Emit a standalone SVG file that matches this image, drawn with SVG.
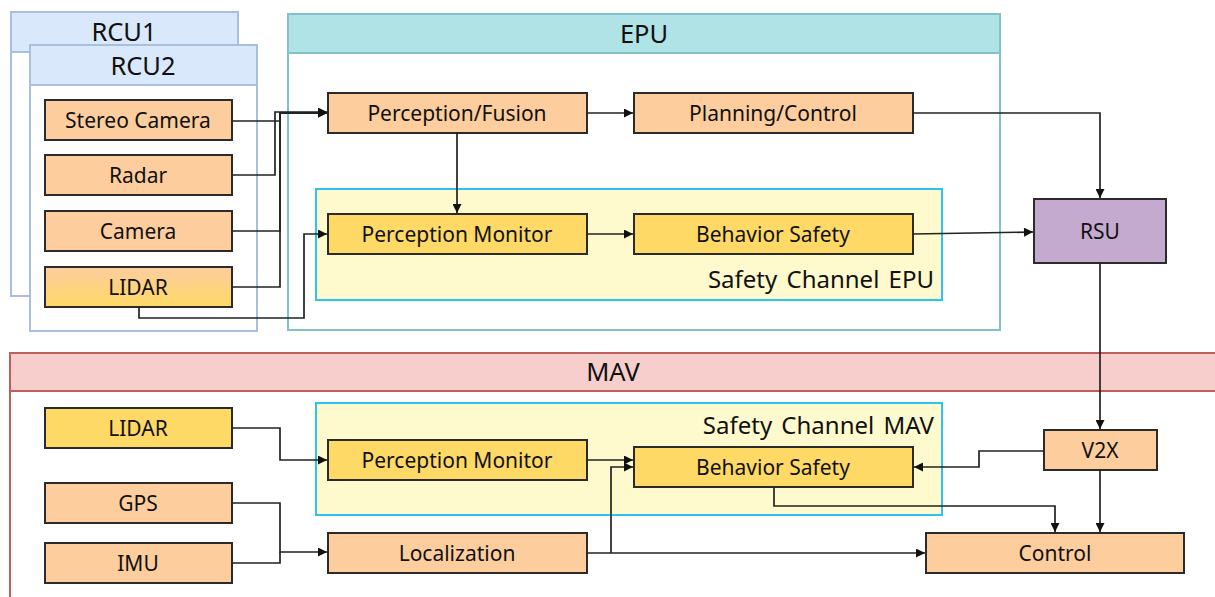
<svg xmlns="http://www.w3.org/2000/svg" width="1215" height="597" viewBox="0 0 1215 597">
  <defs>
    <style>
      text { font-family: "Noto Sans", "Open Sans", "DejaVu Sans", sans-serif; fill: #111; }
      .lbl { font-size: 21px; text-anchor: middle; }
      .hdr { font-size: 25.5px; text-anchor: middle; }
      .chan { font-size: 24px; text-anchor: end; word-spacing: 3px; }
      .box { stroke: #2b2b2b; stroke-width: 2; }
      .orange { fill: #fdcd9e; }
      .yellow { fill: #fed966; }
      .rcu-hdr { fill: #dae8fc; stroke: #a8bfe0; stroke-width: 2; }
      .rcu-body { fill: #ffffff; stroke: #a8bfe0; stroke-width: 2; }
      .epu-hdr { fill: #b0e3e6; stroke: #83c3c7; stroke-width: 2; }
      .epu-body { fill: #ffffff; stroke: #83c3c7; stroke-width: 2; }
      .mav-hdr { fill: #f8cecc; stroke: #c0605c; stroke-width: 2; }
      .mav-body { fill: #ffffff; stroke: #c0605c; stroke-width: 2; }
      .chan-box { fill: #fffacd; stroke: #2cc5f0; stroke-width: 2; }
      .wire { fill: none; stroke: #222; stroke-width: 1.7; }
    </style>
    <linearGradient id="lidarGrad" x1="0" y1="0" x2="0" y2="1">
      <stop offset="0" stop-color="#fdcd9e"/>
      <stop offset="1" stop-color="#fed966"/>
    </linearGradient>
    <marker id="arrow" viewBox="0 0 10 10" refX="10" refY="5" markerWidth="10" markerHeight="9" markerUnits="userSpaceOnUse" orient="auto">
      <path d="M0,0 L10,5 L0,10 z" fill="#111"/>
    </marker>
  </defs>

  <rect width="1215" height="597" fill="#ffffff"/>

  <!-- Containers -->
  <g id="rcu1">
    <rect class="rcu-body" x="11" y="12" width="227" height="284"/>
    <rect class="rcu-hdr" x="11" y="12" width="227" height="40"/>
    <text class="hdr" x="124" y="41">RCU1</text>
  </g>
  <g id="rcu2">
    <rect class="rcu-body" x="30" y="45" width="227" height="286"/>
    <rect class="rcu-hdr" x="30" y="45" width="227" height="40"/>
    <text class="hdr" x="143" y="75">RCU2</text>
  </g>
  <g id="epu">
    <rect class="epu-body" x="288" y="14" width="712" height="316"/>
    <rect class="epu-hdr" x="288" y="14" width="712" height="39"/>
    <text class="hdr" x="644" y="43">EPU</text>
  </g>
  <g id="mav">
    <rect class="mav-body" x="10" y="353" width="1215" height="260"/>
    <rect class="mav-hdr" x="10" y="353" width="1215" height="38"/>
    <text class="hdr" x="613" y="381">MAV</text>
  </g>
  <g id="safety-channel-epu">
    <rect class="chan-box" x="316" y="189" width="626" height="111"/>
    <text class="chan" x="934" y="288">Safety Channel EPU</text>
  </g>
  <g id="safety-channel-mav">
    <rect class="chan-box" x="316" y="403" width="626" height="112"/>
    <text class="chan" x="934" y="434">Safety Channel MAV</text>
  </g>

  <!-- RCU sensors -->
  <g id="stereo-camera">
    <rect class="box orange" x="45" y="100" width="187" height="40"/>
    <text class="lbl" x="138" y="128">Stereo Camera</text>
  </g>
  <g id="radar">
    <rect class="box orange" x="45" y="155" width="187" height="40"/>
    <text class="lbl" x="138" y="183">Radar</text>
  </g>
  <g id="camera">
    <rect class="box orange" x="45" y="211" width="187" height="40"/>
    <text class="lbl" x="138" y="239">Camera</text>
  </g>
  <g id="rcu-lidar">
    <rect class="box" fill="url(#lidarGrad)" x="45" y="267" width="187" height="40"/>
    <text class="lbl" x="138" y="295">LIDAR</text>
  </g>

  <!-- EPU nodes -->
  <g id="perception-fusion">
    <rect class="box orange" x="328" y="93" width="259" height="40"/>
    <text class="lbl" x="457" y="121">Perception/Fusion</text>
  </g>
  <g id="planning-control">
    <rect class="box orange" x="634" y="93" width="279" height="40"/>
    <text class="lbl" x="773" y="121">Planning/Control</text>
  </g>
  <g id="epu-perception-monitor">
    <rect class="box yellow" x="328" y="214" width="259" height="40"/>
    <text class="lbl" x="457" y="242">Perception Monitor</text>
  </g>
  <g id="epu-behavior-safety">
    <rect class="box yellow" x="634" y="214" width="279" height="40"/>
    <text class="lbl" x="773" y="242">Behavior Safety</text>
  </g>

  <!-- Roadside unit -->
  <g id="rsu">
    <rect class="box" fill="#c4aacf" x="1034" y="199" width="132" height="64"/>
    <text class="lbl" x="1100" y="239">RSU</text>
  </g>

  <!-- MAV nodes -->
  <g id="mav-lidar">
    <rect class="box yellow" x="45" y="408" width="187" height="40"/>
    <text class="lbl" x="138" y="436">LIDAR</text>
  </g>
  <g id="gps">
    <rect class="box orange" x="45" y="483" width="187" height="40"/>
    <text class="lbl" x="138" y="511">GPS</text>
  </g>
  <g id="imu">
    <rect class="box orange" x="45" y="543" width="187" height="40"/>
    <text class="lbl" x="138" y="571">IMU</text>
  </g>
  <g id="mav-perception-monitor">
    <rect class="box yellow" x="328" y="440" width="259" height="40"/>
    <text class="lbl" x="457" y="468">Perception Monitor</text>
  </g>
  <g id="mav-behavior-safety">
    <rect class="box yellow" x="634" y="447" width="279" height="40"/>
    <text class="lbl" x="773" y="475">Behavior Safety</text>
  </g>
  <g id="localization">
    <rect class="box orange" x="328" y="533" width="259" height="40"/>
    <text class="lbl" x="457" y="561">Localization</text>
  </g>
  <g id="v2x">
    <rect class="box orange" x="1044" y="430" width="113" height="40"/>
    <text class="lbl" x="1100" y="458">V2X</text>
  </g>
  <g id="control">
    <rect class="box orange" x="926" y="533" width="258" height="40"/>
    <text class="lbl" x="1055" y="561">Control</text>
  </g>

  <!-- Connectors -->
  <g id="connectors">
    <path class="wire" d="M232,121 H280 V113 H327" marker-end="url(#arrow)"/>
    <path class="wire" d="M232,175 H275 V112 H327" marker-end="url(#arrow)"/>
    <path class="wire" d="M232,231 H280 V113 H327" marker-end="url(#arrow)"/>
    <path class="wire" d="M232,287 H280 V113 H327" marker-end="url(#arrow)"/>
    <path class="wire" d="M139,307 V318 H304 V234 H327" marker-end="url(#arrow)"/>
    <path class="wire" d="M587,113 H633" marker-end="url(#arrow)"/>
    <path class="wire" d="M457,133 V213" marker-end="url(#arrow)"/>
    <path class="wire" d="M587,234 H633" marker-end="url(#arrow)"/>
    <path class="wire" d="M913,113 H1100 V198" marker-end="url(#arrow)"/>
    <path class="wire" d="M913,234 L1033,232" marker-end="url(#arrow)"/>
    <path class="wire" d="M1100,263 V429" marker-end="url(#arrow)"/>
    <path class="wire" d="M1044,451 H979 V467 H914" marker-end="url(#arrow)"/>
    <path class="wire" d="M1100,470 V532" marker-end="url(#arrow)"/>
    <path class="wire" d="M774,487 V506 H1055 V532" marker-end="url(#arrow)"/>
    <path class="wire" d="M232,428 H280 V460 H327" marker-end="url(#arrow)"/>
    <path class="wire" d="M232,503 H280 V552 H327" marker-end="url(#arrow)"/>
    <path class="wire" d="M232,563 H280 V552"/>
    <path class="wire" d="M587,460 H633" marker-end="url(#arrow)"/>
    <path class="wire" d="M587,553 H925" marker-end="url(#arrow)"/>
    <path class="wire" d="M611,553 V467 H633" marker-end="url(#arrow)"/>
  </g>
</svg>
